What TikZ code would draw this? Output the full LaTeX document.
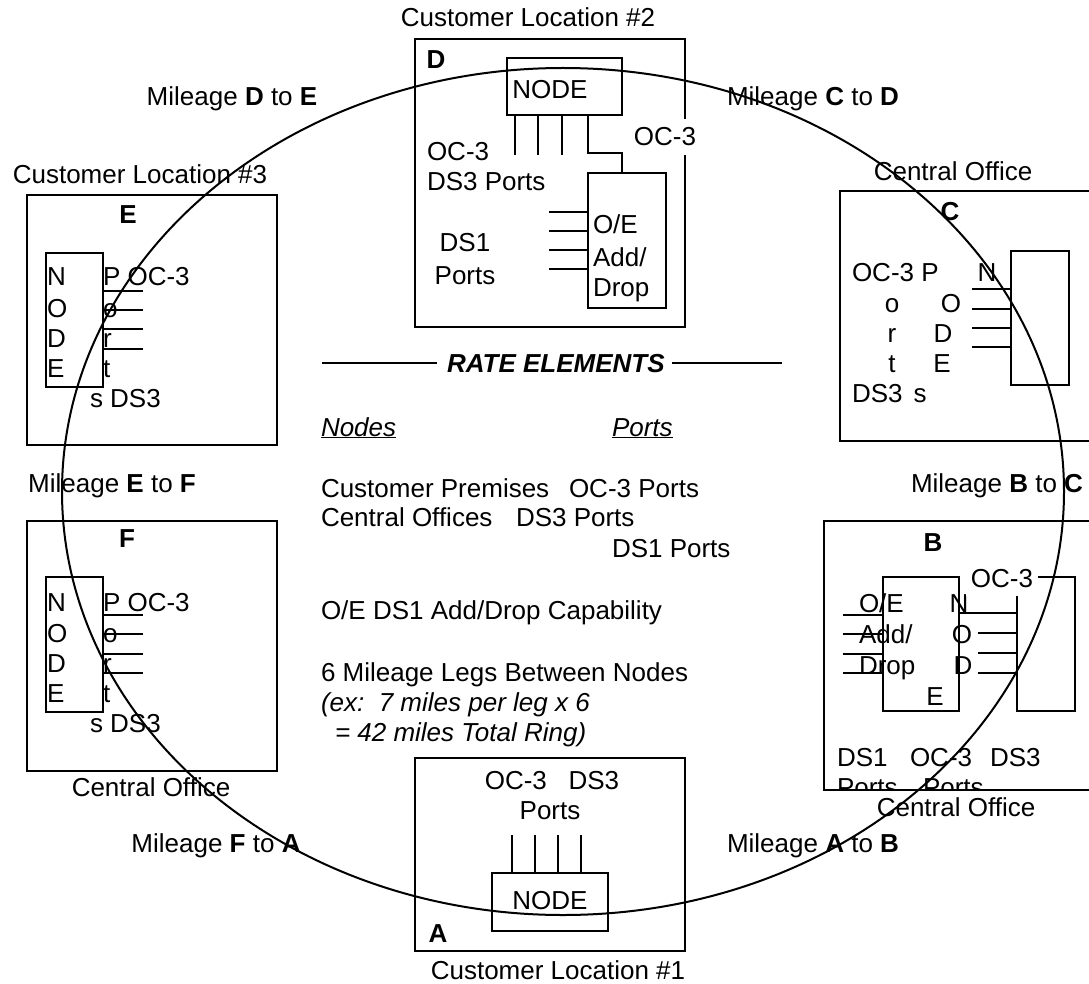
\documentclass[tikz,border=0pt]{standalone}
\usepackage{fontspec}
\setmainfont{Liberation Sans}
\begin{document}
\begin{tikzpicture}[x=1pt,y=-1pt,
  every node/.style={font=\fontsize{26}{30}\selectfont, inner sep=0pt, outer sep=0pt},
  t/.style={anchor=base west},
  tc/.style={anchor=base},
  box/.style={draw, line width=1.3pt},
  stub/.style={line width=1.3pt},
  ring/.style={line width=2pt},
  gaplabel/.style={anchor=base, fill=white, inner xsep=5pt, inner ysep=9pt}]
\useasboundingbox (0,0) rectangle (1089,984);
\clip (0,0) rectangle (1089,984);

% ---------------- Box D (Customer Location #2) ----------------
\node[tc] (capD) at (528,27) {Customer Location \#2};
\draw[box] (415,39) rectangle (685,327);
\node[tc] (lblD) at (436,69) {\textbf{D}};
\draw[box] (507,58) rectangle (622,115);
\node[tc] (nodeDtxt) at (550,99) {NODE};
\foreach \xx in {515,538,562} \draw[stub] (\xx,115) -- (\xx,155);
\draw[stub] (588,115) -- (588,153) -- (622,153) -- (622,173);
\draw[box, line width=2pt] (588,173) rectangle (666,308);
\foreach \yy in {212,231,250,269} \draw[stub] (549,\yy) -- (588,\yy);
\node[t] at (593,234) {O/E};
\node[t] at (593,266) {Add/};
\node[t] at (593,296) {Drop};
\node[t] at (427,161) {OC-3};
\node[t] at (427,191) {DS3 Ports};
\node[tc] at (465,252) {DS1};
\node[tc] at (465,284) {Ports};
\node[gaplabel] at (665,146) {OC-3};

% ---------------- Box C (Central Office) ----------------
\node[tc] at (953,181) {Central Office};
\draw[box] (840,191) rectangle (1100,441);
\node[tc] at (950,221) {\textbf{C}};
\draw[box] (1011,251) rectangle (1069,385);
\foreach \yy in {289,309,328,347} \draw[stub] (972,\yy) -- (1011,\yy);
\node[t] at (852,282) {OC-3 P};
\node[tc] at (892,312) {o};
\node[tc] at (892,342) {r};
\node[tc] at (892,372) {t};
\node[t] at (852,402) {DS3};
\node[tc] at (920,402) {s};
\node[tc] at (987,282) {N};
\node[tc] at (951,312) {O};
\node[tc] at (943,342) {D};
\node[tc] at (942,372) {E};

% ---------------- Box E (Customer Location #3) ----------------
\node[tc] at (140,184) {Customer Location \#3};
\draw[box] (27,195) rectangle (277,445);
\node[tc] at (128,224) {\textbf{E}};
\draw[box] (46,253) rectangle (103,387);
\foreach \yy in {291,310,329,349} \draw[stub] (103,\yy) -- (143,\yy);
\node[t] at (47,286) {N};
\node[t] at (47,317) {O};
\node[t] at (47,347) {D};
\node[t] at (47,377) {E};
\node[t] at (103,286) {P OC-3};
\node[t] at (103,317) {o};
\node[t] at (103,347) {r};
\node[t] at (103,377) {t};
\node[t] at (90,407) {s DS3};

% ---------------- Box F (Central Office) ----------------
\draw[box] (27,521) rectangle (277,771);
\node[tc] at (127,547) {\textbf{F}};
\draw[box] (46,577) rectangle (103,712);
\foreach \yy in {615,634,654,673} \draw[stub] (103,\yy) -- (143,\yy);
\node[t] at (47,611) {N};
\node[t] at (47,642) {O};
\node[t] at (47,672) {D};
\node[t] at (47,702) {E};
\node[t] at (103,611) {P OC-3};
\node[t] at (103,642) {o};
\node[t] at (103,672) {r};
\node[t] at (103,702) {t};
\node[t] at (90,732) {s DS3};
\node[tc] at (151,796) {Central Office};

% ---------------- Box B (Central Office) ----------------
\draw[box] (824,521) rectangle (1100,790);
\node[tc] at (933,551) {\textbf{B}};
\draw[box] (883,577) rectangle (959,711);
\draw[box] (1017,577) rectangle (1075,711);
\draw[stub] (959,613) -- (1017,613);
\foreach \yy in {633,653,673} \draw[stub] (978,\yy) -- (1017,\yy);
\foreach \yy in {615,634,654,673} \draw[stub] (843,\yy) -- (883,\yy);
\node[t] at (859,612) {O/E};
\node[t] at (859,643) {Add/};
\node[t] at (859,674) {Drop};
\node[tc] at (959,612) {N};
\node[tc] at (962,643) {O};
\node[tc] at (963,674) {D};
\node[tc] at (935,705) {E};
\node[gaplabel] at (1002,587) {OC-3};
\begin{scope}
  \clip (824,521) rectangle (1100,789);
  \node[t] at (837,766) {DS1};
  \node[t] at (910,766) {OC-3};
  \node[t] at (990,766) {DS3};
  \node[t] at (837,796) {Ports};
  \node[t] at (923,796) {Ports};
\end{scope}
\node[tc] at (956,816) {Central Office};

% ---------------- Box A (Customer Location #1) ----------------
\draw[box] (415,758) rectangle (685,951);
\node[tc] at (552,789) {OC-3\ \ \ DS3};
\node[tc] at (550,819) {Ports};
\foreach \xx in {512,535,558,581} \draw[stub] (\xx,835) -- (\xx,873);
\draw[box] (492,873) rectangle (608,931);
\node[tc] at (550,909) {NODE};
\node[tc] at (438,942) {\textbf{A}};
\node[tc] at (558,979) {Customer Location \#1};

% ---------------- Mileage labels ----------------
\node[tc] at (232,106) {Mileage \textbf{D} to \textbf{E}};
\node[tc] at (813,106) {Mileage \textbf{C} to \textbf{D}};
\node[tc] at (112,492) {Mileage \textbf{E} to \textbf{F}};
\node[tc] at (997,492) {Mileage \textbf{B} to \textbf{C}};
\node[tc] at (216,852) {Mileage \textbf{F} to \textbf{A}};
\node[tc] at (813,852) {Mileage \textbf{A} to \textbf{B}};

% ---------------- Rate elements ----------------
\draw[line width=1.5pt] (322,363) -- (437,363);
\draw[line width=1.5pt] (672,363) -- (782,363);
\node[t] at (447,372) {\textbf{\textit{RATE ELEMENTS}}};
\node[t] at (321,436) {\underline{\textit{Nodes}}};
\node[t] at (612,436) {\underline{\textit{Ports}}};
\node[t] at (321,497) {Customer Premises};
\node[t] at (569,497) {OC-3 Ports};
\node[t] at (321,526) {Central Offices};
\node[t] at (516,526) {DS3 Ports};
\node[t] at (612,557) {DS1 Ports};
\node[t] at (321,619) {O/E DS1 Add/Drop Capability};
\node[t] at (321,681) {6 Mileage Legs Between Nodes};
\node[t] at (321,711) {\textit{(ex:\ \ 7 miles per leg x 6}};
\node[t] at (335,741) {\textit{= 42 miles Total Ring)}};

% ---------------- Ring ----------------
\draw[ring] (563,491.5) ellipse [x radius=501pt, y radius=423.5pt];
\end{tikzpicture}
\end{document}
